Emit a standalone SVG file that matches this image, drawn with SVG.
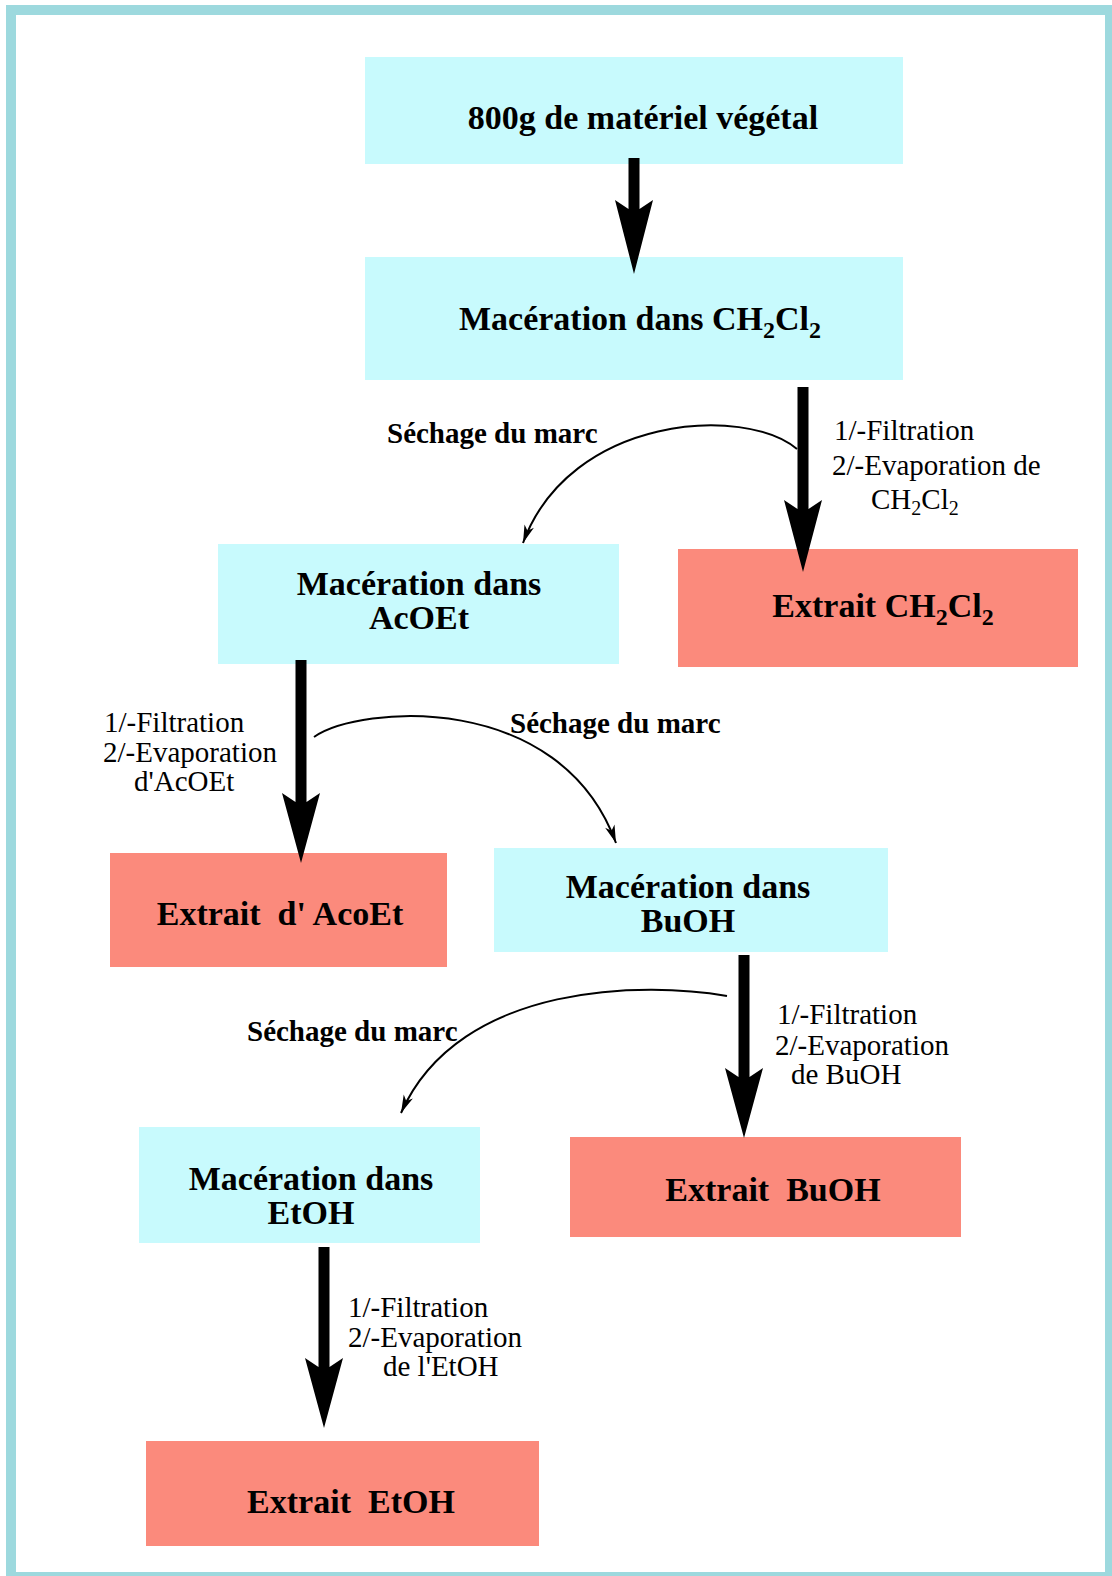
<svg xmlns="http://www.w3.org/2000/svg" width="1112" height="1576" viewBox="0 0 1112 1576">
<style>
.frame{fill:#ffffff;stroke:#9dd9de;stroke-width:10}
.proc{fill:#c8fafd}
.ext{fill:#fb8a7c}
.big{font-family:"Liberation Serif","Times New Roman",serif;font-weight:bold;font-size:34px;fill:#000;text-anchor:middle}
.lbl{font-family:"Liberation Serif","Times New Roman",serif;font-size:29px;fill:#000}
.lblb{font-family:"Liberation Serif","Times New Roman",serif;font-weight:bold;font-size:29px;fill:#000}
.thick{fill:#000}
.thin{fill:none;stroke:#000;stroke-width:2}
</style>
<defs>
<marker id="thinhead" markerUnits="userSpaceOnUse" markerWidth="24" markerHeight="14" viewBox="-20 -7 24 14" refX="0" refY="0" orient="auto">
<path d="M0,0 L-18,-5 L-13,0 L-18,5 Z" fill="#000"/>
</marker>
</defs>
<rect class="frame" x="11" y="10" width="1099" height="1567"/>

<g id="n1">
<rect class="proc" x="365" y="57" width="538" height="107"/>
<text class="big" x="643" y="129">800g de matériel végétal</text>
</g>
<g id="n2">
<rect class="proc" x="365" y="257" width="538" height="123"/>
<text class="big" x="640" y="330">Macération dans CH<tspan font-size="24" dy="8">2</tspan><tspan dy="-8">Cl</tspan><tspan font-size="24" dy="8">2</tspan></text>
</g>
<g id="n3">
<rect class="proc" x="218" y="544" width="401" height="120"/>
<text class="big" x="419" y="595">Macération dans</text>
<text class="big" x="419" y="629">AcOEt</text>
</g>
<g id="n4">
<rect class="ext" x="678" y="549" width="400" height="118"/>
<text class="big" x="883" y="617">Extrait CH<tspan font-size="24" dy="8">2</tspan><tspan dy="-8">Cl</tspan><tspan font-size="24" dy="8">2</tspan></text>
</g>
<g id="n5">
<rect class="ext" x="110" y="853" width="337" height="114"/>
<text class="big" x="280" y="925" xml:space="preserve">Extrait  d' AcoEt</text>
</g>
<g id="n6">
<rect class="proc" x="494" y="848" width="394" height="104"/>
<text class="big" x="688" y="898">Macération dans</text>
<text class="big" x="688" y="932">BuOH</text>
</g>
<g id="n7">
<rect class="proc" x="139" y="1127" width="341" height="116"/>
<text class="big" x="311" y="1190">Macération dans</text>
<text class="big" x="311" y="1224">EtOH</text>
</g>
<g id="n8">
<rect class="ext" x="570" y="1137" width="391" height="100"/>
<text class="big" x="773" y="1201" xml:space="preserve">Extrait  BuOH</text>
</g>
<g id="n9">
<rect class="ext" x="146" y="1441" width="393" height="105"/>
<text class="big" x="351" y="1513" xml:space="preserve">Extrait  EtOH</text>
</g>

<g id="connectors">
<path class="thick" d="M628.5,158 H639.5 V209 L653,200 L634,274 L615,200 L628.5,209 Z"/>
<path class="thick" d="M797.5,387 H808.5 V509 L822,500 L803,572 L784,500 L797.5,509 Z"/>
<path class="thick" d="M295.5,660 H306.5 V802 L320,793 L301,863 L282,793 L295.5,802 Z"/>
<path class="thick" d="M738.5,955 H749.5 V1077 L763,1068 L744,1138 L725,1068 L738.5,1077 Z"/>
<path class="thick" d="M318.5,1247 H329.5 V1367 L343,1358 L324,1428 L305,1358 L318.5,1367 Z"/>
<path class="thin" marker-end="url(#thinhead)" d="M797,449 C745,405 570,415 523,543"/>
<path class="thin" marker-end="url(#thinhead)" d="M314,737 C360,705 560,690 616,843"/>
<path class="thin" marker-end="url(#thinhead)" d="M727,996 C650,982 460,980 401,1113"/>
<text class="lblb" x="387" y="443">Séchage du marc</text>
<text class="lbl" x="834" y="440">1/-Filtration</text>
<text class="lbl" x="832" y="475">2/-Evaporation de</text>
<text class="lbl" x="871" y="509">CH<tspan font-size="20" dy="6">2</tspan><tspan dy="-6">Cl</tspan><tspan font-size="20" dy="6">2</tspan></text>
<text class="lbl" x="104" y="732">1/-Filtration</text>
<text class="lbl" x="103" y="762">2/-Evaporation</text>
<text class="lbl" x="134" y="791">d'AcOEt</text>
<text class="lblb" x="510" y="733">Séchage du marc</text>
<text class="lbl" x="777" y="1024">1/-Filtration</text>
<text class="lbl" x="775" y="1055">2/-Evaporation</text>
<text class="lbl" x="791" y="1084">de BuOH</text>
<text class="lblb" x="247" y="1041">Séchage du marc</text>
<text class="lbl" x="348" y="1317">1/-Filtration</text>
<text class="lbl" x="348" y="1347">2/-Evaporation</text>
<text class="lbl" x="383" y="1376">de l'EtOH</text>
</g>
</svg>
